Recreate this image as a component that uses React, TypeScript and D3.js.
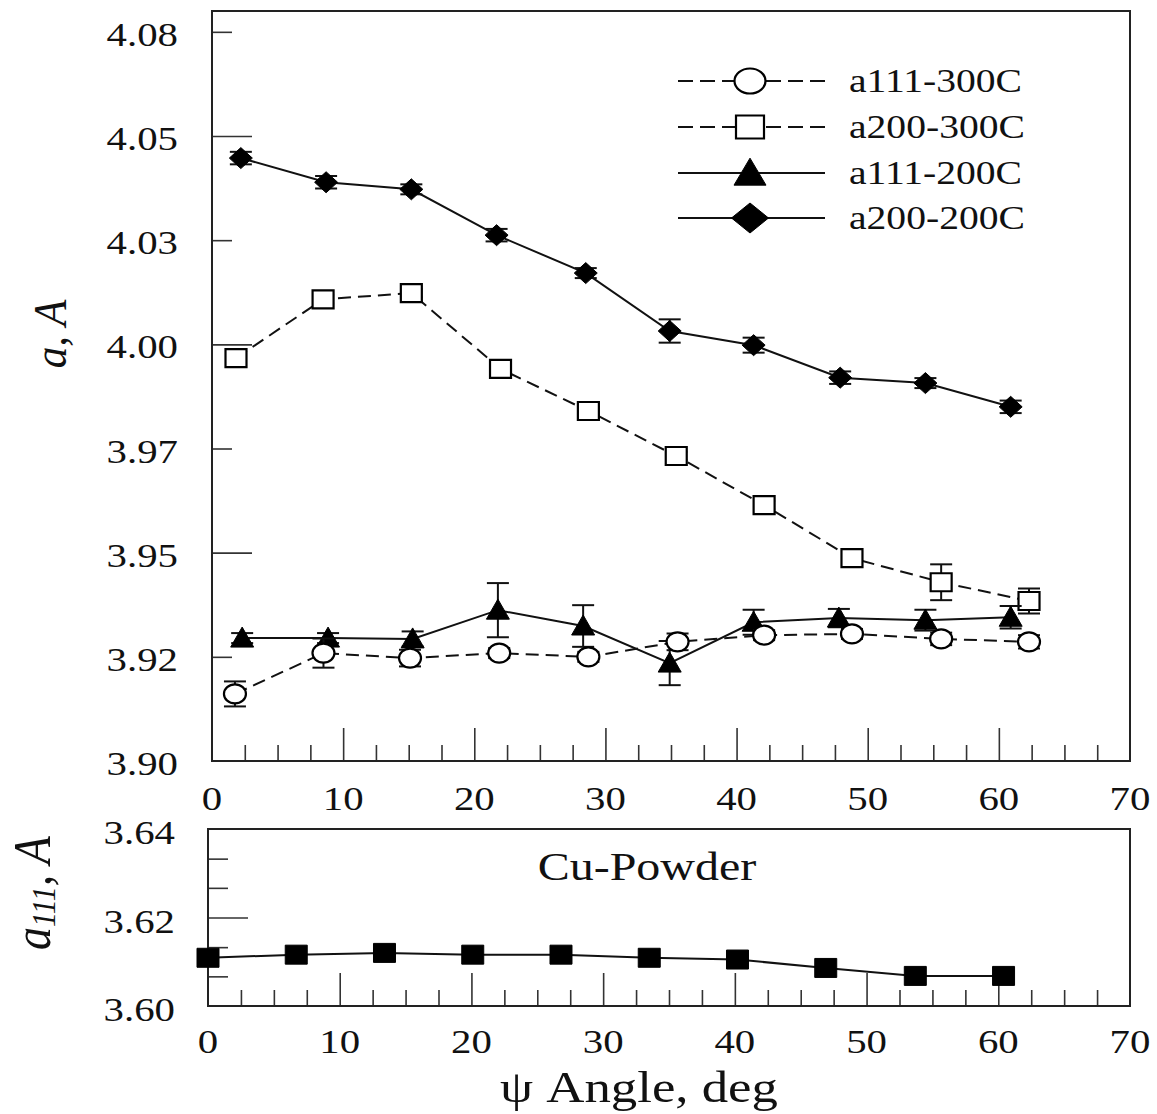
import React, { useEffect, useRef } from "react";
import * as d3 from "d3";

// figure size and the two panels
const W = 1157;
const H = 1114;
const top = { left: 212, right: 1130, top: 11, bottom: 761 };
const bot = { left: 208, right: 1130, top: 829, bottom: 1006 };
const FONT = "'Liberation Serif', 'Times New Roman', serif";
const SX = 1.2; // the scanned figure is stretched sideways

// x axis (psi angle, deg)
const xLabels = [0, 10, 20, 30, 40, 50, 60, 70];
const xMajor = [10, 20, 30, 40, 50, 60];
const xMinor = [2.5, 5, 7.5, 12.5, 15, 17.5, 22.5, 25, 27.5, 32.5, 35, 37.5, 42.5, 45, 47.5, 52.5, 55, 57.5, 62.5, 65, 67.5];

// top panel y axis
const yTopTicks = [3.9, 3.925, 3.95, 3.975, 4.0, 4.025, 4.05, 4.075];
const yTopLabels = ["3.90", "3.92", "3.95", "3.97", "4.00", "4.03", "4.05", "4.08"];
const yTopMajor = [3.95, 4.0, 4.05];
const yTopMinor = [3.925, 3.975, 4.025, 4.075];

// bottom panel y axis
const yBotTicks = [3.6, 3.62, 3.64];
const yBotLabels = ["3.60", "3.62", "3.64"];
const yBotMajor = [3.62];
const yBotMinor = [3.6067, 3.6133, 3.6267, 3.6333];

// a111-300C (open circles, dashed)
const circX = [1.75, 8.5, 15.1, 21.9, 28.7, 35.5, 42.1, 48.8, 55.6, 62.3];
const circY = [3.9161, 3.9259, 3.9247, 3.9259, 3.925, 3.9286, 3.9302, 3.9305, 3.9293, 3.9286];
const circErr = [0.003, 0.0035, 0.002, 0.0012, 0.0012, 0.002, 0.0012, 0.0012, 0.0015, 0.0016];

// a200-300C (open squares, dashed)
const sqX = [1.83, 8.47, 15.2, 22.0, 28.7, 35.4, 42.1, 48.8, 55.6, 62.3];
const sqY = [3.9967, 4.0108, 4.0123, 3.9941, 3.984, 3.9732, 3.9614, 3.9487, 3.9429, 3.9384];
const sqErr = [0.001, 0.001, 0.001, 0.001, 0.001, 0.001, 0.001, 0.0012, 0.0043, 0.003];

// a111-200C (filled triangles, solid)
const triX = [2.3, 8.85, 15.3, 21.8, 28.3, 34.9, 41.3, 47.8, 54.4, 60.9];
const triY = [3.9295, 3.9295, 3.9293, 3.9362, 3.9324, 3.9235, 3.9333, 3.9343, 3.9338, 3.9345];
const triErr = [0.0012, 0.0012, 0.0018, 0.0065, 0.005, 0.0053, 0.003, 0.0022, 0.0025, 0.0027];

// a200-200C (filled diamonds, solid)
const diaX = [2.2, 8.7, 15.2, 21.7, 28.5, 34.9, 41.3, 47.9, 54.4, 60.9];
const diaY = [4.0447, 4.0389, 4.0372, 4.0262, 4.0171, 4.0032, 3.9998, 3.992, 3.9907, 3.985];
const diaErr = [0.0015, 0.0015, 0.0012, 0.0015, 0.0012, 0.0028, 0.0018, 0.0015, 0.0012, 0.0015];

// Cu powder a111 (filled squares)
const cuX = [0, 6.7, 13.4, 20.1, 26.8, 33.5, 40.2, 46.9, 53.7, 60.4];
const cuY = [3.6109, 3.6116, 3.612, 3.6116, 3.6116, 3.6109, 3.6105, 3.6086, 3.6068, 3.6068];

const legendNames = ["a111-300C", "a200-300C", "a111-200C", "a200-200C"];

type Shape = "circle" | "square" | "triangle" | "diamond";

// marker outline around (0,0) for a w x h box
function shapePath(shape: Shape, w: number, h: number): string {
  const a = w / 2, b = h / 2;
  if (shape === "square") return `M${-a},${-b}H${a}V${b}H${-a}Z`;
  if (shape === "triangle") return `M0,${-h * 0.55}L${a},${h * 0.45}L${-a},${h * 0.45}Z`;
  if (shape === "diamond") return `M0,${-b}L${a},0L0,${b}L${-a},0Z`;
  return "";
}

function App() {
  const ref = useRef<SVGSVGElement>(null);

  useEffect(() => {
    const svg = d3.select(ref.current).html("");
    svg.append("rect").attr("width", W).attr("height", H).attr("fill", "#fff");

    const x = d3.scaleLinear().domain([0, 70]).range([top.left, top.right]);
    const y = d3.scaleLinear().domain([3.9, 4.08]).range([top.bottom, top.top]);
    const xb = d3.scaleLinear().domain([0, 70]).range([bot.left, bot.right]);
    const yb = d3.scaleLinear().domain([3.6, 3.64]).range([bot.bottom, bot.top]);

    // horizontal text, stretched like the original
    const text = (px: number, py: number, str: string, size: number, anchor: string) =>
      svg.append("text")
        .attr("transform", `translate(${px},${py}) scale(${SX},1)`)
        .attr("text-anchor", anchor)
        .attr("font-family", FONT)
        .attr("font-size", size)
        .attr("fill", "#111")
        .text(str);

    // ticks pointing into the plot
    const tickAxis = (axis: any, tx: number, ty: number, len: number) => {
      svg.append("g")
        .attr("transform", `translate(${tx},${ty})`)
        .attr("color", "#333")
        .call(axis.tickSize(-len).tickFormat(() => ""))
        .call((g: any) => g.select(".domain").remove())
        .selectAll("line").attr("stroke-width", 1.6);
    };

    // top panel axes
    tickAxis(d3.axisBottom(x).tickValues(xMinor), 0, top.bottom, 16);
    tickAxis(d3.axisBottom(x).tickValues(xMajor), 0, top.bottom, 33);
    tickAxis(d3.axisLeft(y).tickValues(yTopMinor), top.left, 0, 20);
    tickAxis(d3.axisLeft(y).tickValues(yTopMajor), top.left, 0, 40);
    xLabels.forEach((v) => text(x(v), 810, String(v), 34, "middle"));
    yTopTicks.forEach((v, i) => text(178, y(v) + 14, yTopLabels[i], 34, "end"));

    // bottom panel axes
    tickAxis(d3.axisBottom(xb).tickValues(xMinor), 0, bot.bottom, 16);
    tickAxis(d3.axisBottom(xb).tickValues(xMajor), 0, bot.bottom, 33);
    tickAxis(d3.axisLeft(yb).tickValues(yBotMinor), bot.left, 0, 20);
    tickAxis(d3.axisLeft(yb).tickValues(yBotMajor), bot.left, 0, 40);
    xLabels.forEach((v) => text(xb(v), 1053, String(v), 34, "middle"));
    yBotTicks.forEach((v, i) => text(175, yb(v) + 15, yBotLabels[i], 34, "end"));

    // frames
    [top, bot].forEach((p) => {
      svg.append("rect")
        .attr("x", p.left).attr("y", p.top)
        .attr("width", p.right - p.left).attr("height", p.bottom - p.top)
        .attr("fill", "none").attr("stroke", "#222").attr("stroke-width", 2);
    });

    const marker = (px: number, py: number, shape: Shape, filled: boolean, w: number, h: number) => {
      const fill = filled ? "#000" : "#fff";
      if (shape === "circle") {
        svg.append("ellipse").attr("cx", px).attr("cy", py).attr("rx", w / 2).attr("ry", h / 2)
          .attr("fill", fill).attr("stroke", "#000").attr("stroke-width", 2.2);
      } else {
        svg.append("path").attr("transform", `translate(${px},${py})`).attr("d", shapePath(shape, w, h))
          .attr("fill", fill).attr("stroke", "#000").attr("stroke-width", filled ? 1 : 2.2);
      }
    };

    // one series: line, error bars, markers
    const series = (xs: number[], ys: number[], errs: number[] | null, sx: any, sy: any,
      shape: Shape, filled: boolean, dashed: boolean, w: number, h: number) => {
      const pts = xs.map((v, i) => [sx(v), sy(ys[i])] as [number, number]);
      svg.append("path")
        .attr("d", d3.line()(pts))
        .attr("fill", "none").attr("stroke", "#111").attr("stroke-width", 2)
        .attr("stroke-dasharray", dashed ? "13,7" : null);
      if (errs) {
        const eb = svg.append("g").attr("stroke", "#111").attr("stroke-width", 2);
        xs.forEach((v, i) => {
          const px = sx(v), y1 = sy(ys[i] + errs[i]), y2 = sy(ys[i] - errs[i]);
          eb.append("line").attr("x1", px).attr("x2", px).attr("y1", y1).attr("y2", y2);
          eb.append("line").attr("x1", px - 11).attr("x2", px + 11).attr("y1", y1).attr("y2", y1);
          eb.append("line").attr("x1", px - 11).attr("x2", px + 11).attr("y1", y2).attr("y2", y2);
        });
      }
      pts.forEach(([px, py]) => marker(px, py, shape, filled, w, h));
    };

    series(diaX, diaY, diaErr, x, y, "diamond", true, false, 23, 21);
    series(sqX, sqY, sqErr, x, y, "square", false, true, 21, 18);
    series(triX, triY, triErr, x, y, "triangle", true, false, 23, 20);
    series(circX, circY, circErr, x, y, "circle", false, true, 22, 19);
    series(cuX, cuY, null, xb, yb, "square", true, false, 22, 19);

    // legend
    const legendShapes: Shape[] = ["circle", "square", "triangle", "diamond"];
    const legendSizes = [[31, 25], [28, 23], [32, 27], [37, 30]];
    const legendRows = [81, 127, 173, 218];
    legendNames.forEach((name, i) => {
      const ly = legendRows[i];
      const dashed = i < 2;
      svg.append("line")
        .attr("x1", 678).attr("x2", 825).attr("y1", ly).attr("y2", ly)
        .attr("stroke", "#111").attr("stroke-width", 2)
        .attr("stroke-dasharray", dashed ? "15,7" : null);
      marker(750, ly, legendShapes[i], i >= 2, legendSizes[i][0], legendSizes[i][1]);
      text(849, ly + 11, name, 33, "start");
    });

    text(647, 880, "Cu-Powder", 40, "middle");
    text(639, 1102, "\u03c8 Angle, deg", 44, "middle");

    // rotated y titles
    svg.append("text")
      .attr("transform", `translate(66,334) scale(1.1,1) rotate(-90)`)
      .attr("text-anchor", "middle")
      .attr("font-family", FONT).attr("font-style", "italic").attr("font-size", 43)
      .attr("fill", "#111")
      .text("a, A");

    const t2 = svg.append("text")
      .attr("transform", `translate(50,893) scale(1.15,1) rotate(-90)`)
      .attr("text-anchor", "middle")
      .attr("font-family", FONT).attr("font-style", "italic").attr("font-size", 46)
      .attr("fill", "#111");
    t2.append("tspan").text("a");
    t2.append("tspan").attr("font-size", 30).attr("dy", 4).text("111");
    t2.append("tspan").attr("dy", -4).text(", A");
  }, []);

  return (
    <svg ref={ref} width={W} height={H}
      style={{ position: "absolute", left: 0, top: 0, display: "block" }} />
  );
}

export default App;
